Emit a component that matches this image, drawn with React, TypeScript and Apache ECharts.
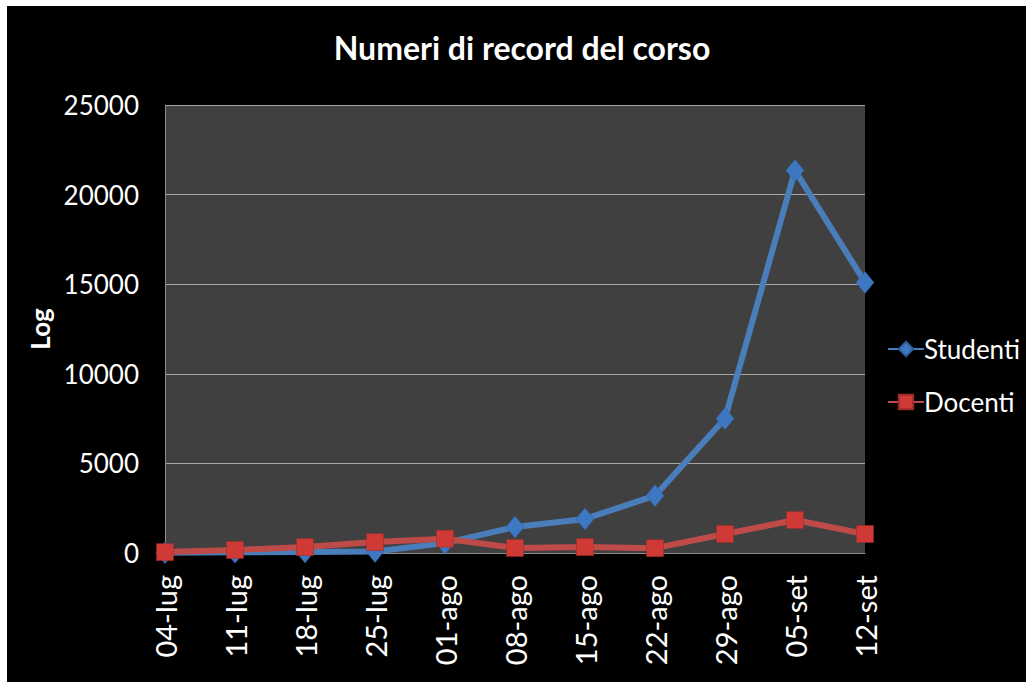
import React, { useEffect, useRef } from "react";
import * as echarts from "echarts";

const categories = ["04-lug", "11-lug", "18-lug", "25-lug", "01-ago", "08-ago", "15-ago", "22-ago", "29-ago", "05-set", "12-set"];
const studenti = [20, 40, 60, 80, 550, 1450, 1900, 3200, 7500, 21350, 15100];
const docenti = [50, 170, 330, 610, 800, 280, 330, 270, 1060, 1840, 1060];
const yTicks = { min: 0, max: 25000, interval: 5000 };

const FONT = "Lato, 'Open Sans', sans-serif";

export default function App() {
  const ref = useRef<HTMLDivElement>(null);
  useEffect(() => {
    document.body.style.margin = "0";
    const chart = echarts.init(ref.current!, null, { renderer: "svg" });
    chart.setOption({
      animation: false,
      backgroundColor: "#000000",
      graphic: [
        {
          type: "text",
          x: 515,
          y: 41,
          style: {
            text: "Numeri di record del corso",
            fill: "#ffffff",
            font: `bold 32px ${FONT}`,
            textAlign: "center",
            textVerticalAlign: "middle",
          },
        },
      ],
      legend: {
        orient: "vertical",
        left: 880,
        top: 330,
        padding: 0,
        itemGap: 27,
        itemWidth: 36,
        itemHeight: 18,
        textStyle: { color: "#ffffff", fontSize: 26, fontFamily: FONT, padding: [0, 0, 0, -5] },
        data: ["Studenti", "Docenti"],
      },
      grid: { left: 158, top: 99, width: 700, height: 448, backgroundColor: "#404040", show: true, borderWidth: 0 },
      xAxis: {
        type: "category",
        data: categories,
        boundaryGap: false,
        axisLine: { lineStyle: { color: "#8c8c8c", width: 1 } },
        axisTick: { show: false },
        axisLabel: { rotate: 90, color: "#ffffff", fontSize: 29, fontFamily: FONT, margin: 22, interval: 0 },
      },
      yAxis: {
        type: "value",
        min: yTicks.min,
        max: yTicks.max,
        interval: yTicks.interval,
        name: "Log",
        nameLocation: "middle",
        nameRotate: 90,
        nameGap: 107,
        nameTextStyle: { color: "#ffffff", fontSize: 26, fontWeight: "bold", fontFamily: FONT },
        axisLine: { show: true, lineStyle: { color: "#8c8c8c", width: 1 } },
        axisTick: { show: false },
        splitLine: { lineStyle: { color: "#a6a6a6", width: 1 } },
        axisLabel: { color: "#ffffff", fontSize: 26, fontFamily: FONT, margin: 26, formatter: (v: number) => String(v) },
      },
      series: [
        {
          name: "Studenti",
          type: "line",
          data: studenti,
          symbol: "diamond",
          symbolSize: [18, 22],
          lineStyle: { color: "#4a7ebb", width: 6 },
          itemStyle: { color: "#3f78c2", borderColor: "#2f5f9e", borderWidth: 0.5 },
          emphasis: { disabled: true },
          z: 2,
        },
        {
          name: "Docenti",
          type: "line",
          data: docenti,
          symbol: "rect",
          symbolSize: 17,
          lineStyle: { color: "#be4b48", width: 6 },
          itemStyle: { color: "#d03a36", borderColor: "#9e2a27", borderWidth: 0.5 },
          emphasis: { disabled: true },
          z: 3,
        },
      ],
    });
    return () => chart.dispose();
  }, []);
  return (
    <div style={{ position: "relative", width: 1026, height: 682, background: "#ffffff", overflow: "hidden" }}>
      <div ref={ref} style={{ position: "absolute", left: 7, top: 6, width: 1019, height: 676 }} />
    </div>
  );
}
